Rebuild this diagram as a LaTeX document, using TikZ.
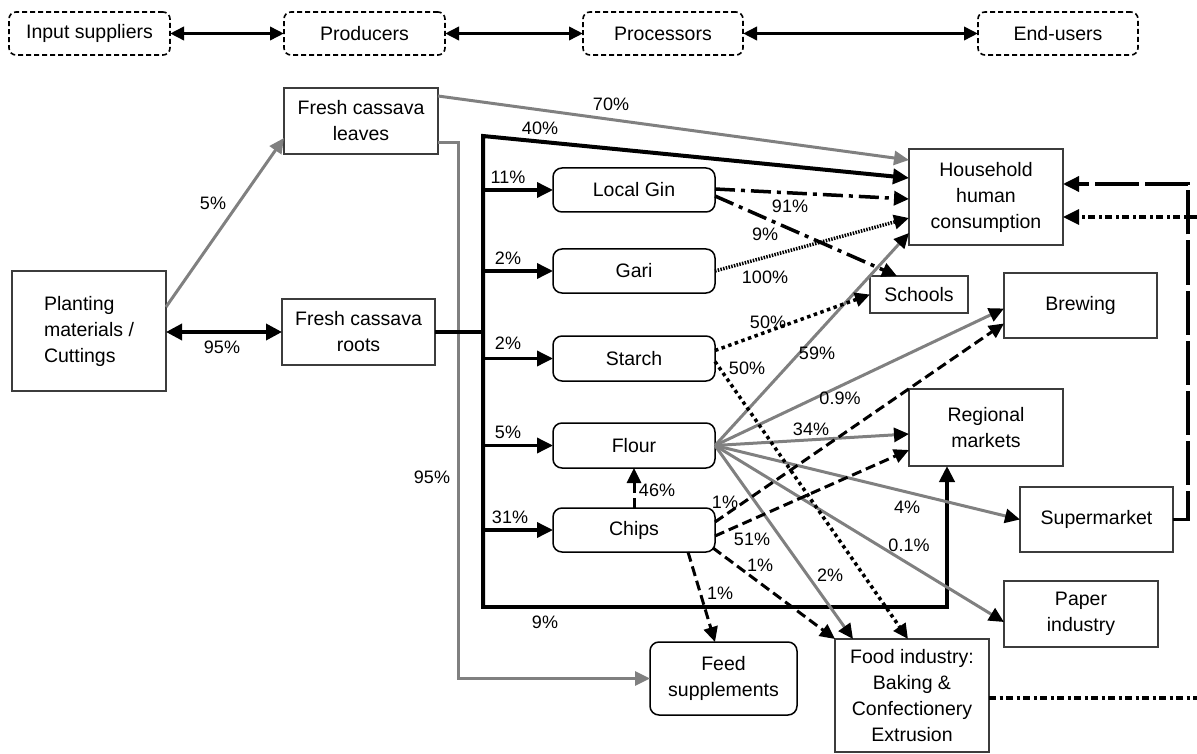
\documentclass[tikz,border=0pt]{standalone}
\usepackage{fontspec}
\setmainfont{Liberation Sans}
\usetikzlibrary{arrows.meta,calc}
\definecolor{ln}{RGB}{128,128,128}
\definecolor{bd}{RGB}{60,60,60}
\tikzset{
  every node/.style={font=\fontsize{19.5}{26}\selectfont, inner sep=0pt, outer sep=0pt},
  rbox/.style={draw=bd, line width=2pt, align=center},
  rnd/.style={draw=black, line width=1.5pt, rounded corners=9pt, align=center},
  tbox/.style={draw=black, line width=1.6pt, dash pattern=on 5pt off 3pt, rounded corners=7pt, minimum height=43pt},
  lab/.style={font=\fontsize{18}{22}\selectfont},
  gl/.style={draw=ln, line width=3pt},
  ga/.style={gl, -{Triangle[length=15pt,width=14pt]}},
  gk/.style={gl, -{Triangle[length=15pt,width=14pt,color=black]}},
  kl/.style={draw=black, line width=4pt},
  kla/.style={draw=black, line width=4pt, -{Triangle[length=16pt,width=15pt]}},
  ka/.style={draw=black, line width=3.5pt, -{Triangle[length=16pt,width=15pt]}},
  dbl/.style={draw=black, line width=3.5pt, {Triangle[length=14pt,width=13pt]}-{Triangle[length=14pt,width=13pt]}},
  dbltwo/.style={draw=black, line width=3.5pt, {Triangle[length=16pt,width=16pt]}-{Triangle[length=16pt,width=16pt]}},
  dsh/.style={draw=black, line width=3pt, dash pattern=on 10pt off 5pt, -{Triangle[length=15pt,width=14pt]}},
  dt/.style={draw=black, line width=3.5pt, dash pattern=on 3.5pt off 3.5pt, -{Triangle[length=15pt,width=14pt]}},
  fd/.style={draw=black, line width=3.5pt, dash pattern=on 1.5pt off 1.3pt, -{Triangle[length=15pt,width=14pt]}},
  dd/.style={draw=black, line width=3.5pt, dash pattern=on 20pt off 6pt on 4pt off 6pt, -{Triangle[length=15pt,width=14pt]}},
  ldash/.style={draw=black, line width=3.5pt, dash pattern=on 44pt off 6pt, -{Triangle[length=16pt,width=15pt]}},
  ddd/.style={draw=black, line width=3.2pt, dash pattern=on 7pt off 3.5pt on 3pt off 3.5pt},
  ddda/.style={ddd, -{Triangle[length=16pt,width=15pt]}},
}
\begin{document}
\begin{tikzpicture}[x=1pt,y=-1pt]
\useasboundingbox (0,0) rectangle (1197,754);
% top row
\node[tbox, minimum width=161pt] (inp) at (89.5,33.5) {Input suppliers};
\node[tbox, minimum width=161pt] (prod) at (364.5,33.5) {Producers};
\node[tbox, minimum width=160pt] (proc) at (663,33.5) {Processors};
\node[tbox, minimum width=160pt] (endu) at (1058,33.5) {End-users};
\draw[dbl] (inp.east) -- (prod.west);
\draw[dbl] (prod.east) -- (proc.west);
\draw[dbl] (proc.east) -- (endu.west);
% boxes
\node[rbox, minimum width=154pt, minimum height=120pt, align=left] (plant) at (89,331) {Planting\\materials /\\Cuttings};
\node[rbox, minimum width=154pt, minimum height=66pt] (leaves) at (361,121) {Fresh cassava\\leaves};
\node[rbox, minimum width=153pt, minimum height=66pt] (roots) at (358.5,332) {Fresh cassava\\roots};
\node[rnd, minimum width=162pt, minimum height=44pt] (gin) at (634,190) {Local Gin};
\node[rnd, minimum width=162pt, minimum height=44pt] (gari) at (634,271) {Gari};
\node[rnd, minimum width=162pt, minimum height=45pt] (starch) at (634,358.5) {Starch};
\node[rnd, minimum width=162pt, minimum height=45pt] (flour) at (634,445.5) {Flour};
\node[rnd, minimum width=162pt, minimum height=44pt] (chips) at (634,530) {Chips};
\node[rnd, minimum width=147pt, minimum height=73pt] (feed) at (723.5,678.5) {Feed\\supplements};
\node[rbox, minimum width=154pt, minimum height=113pt] (food) at (912,695.5) {Food industry:\\Baking \&\\Confectionery\\Extrusion};
\node[rbox, minimum width=154pt, minimum height=96pt] (house) at (986,197) {Household\\human\\consumption};
\node[rbox, minimum width=98pt, minimum height=37pt] (schools) at (919,294.5) {Schools};
\node[rbox, minimum width=153pt, minimum height=65pt] (brew) at (1080.5,305.5) {Brewing};
\node[rbox, minimum width=154pt, minimum height=77pt] (reg) at (986,427.5) {Regional\\markets};
\node[rbox, minimum width=153pt, minimum height=65pt] (super) at (1096.5,519.5) {Supermarket};
\node[rbox, minimum width=154pt, minimum height=66pt] (paper) at (1081,614) {Paper\\industry};
% coordinates
\coordinate (bt) at (483,136);
\coordinate (bb) at (483,607);
\coordinate (gv) at (458,0);
\coordinate (rc) at (1188,184);
\coordinate (hr) at (1197,217);
\coordinate (fr) at (1197,698);
% producers
\draw[ga] ([yshift=24pt]plant.east) -- ([yshift=-17pt]leaves.west);
\draw[dbltwo] (roots.west -| plant.east) -- (roots.west);
\draw[ga] ([yshift=-8pt]leaves.north east) -- ([yshift=37pt]house.west);
\draw[ga] ([yshift=-22pt]leaves.east) -| (gv |- feed.west) -- (feed.west);
% bus
\draw[kl] (roots.east) -- (roots.east -| bt);
\draw[kla] (bb) -- (bt) -- ([yshift=19pt]house.west);
\draw[kla] (bt) -- (bb) -| ([xshift=-39pt]reg.south);
\draw[ka] (gin.west -| bt) -- (gin.west);
\draw[ka] (gari.west -| bt) -- (gari.west);
\draw[ka] (starch.west -| bt) -- (starch.west);
\draw[ka] (flour.west -| bt) -- (flour.west);
\draw[ka] (chips.west -| bt) -- (chips.west);
% flour
\draw[gk] (flour.east) -- ([yshift=-36pt]house.west);
\draw[gk] (flour.east) -- ([yshift=-3pt]brew.west);
\draw[gk] (flour.east) -- ([yshift=-6.5pt]reg.west);
\draw[gk] (flour.east) -- (super.west);
\draw[gk] (flour.east) -- ([yshift=-8pt]paper.west);
\draw[gk] (flour.east) -- ([xshift=-59pt]food.north);
% gin, gari, starch
\draw[dd] ([yshift=1pt]gin.east) -- ([yshift=-2pt]house.west);
\draw[dd] ([yshift=-6pt]gin.east) -- ([xshift=-22pt]schools.north);
\draw[fd] (gari.east) -- ([yshift=-21pt]house.west);
\draw[dt] ([yshift=8pt]starch.east) -- (schools.west);
\draw[dt] ([yshift=-3pt]starch.east) -- ([xshift=-4pt]food.north);
% chips
\draw[dsh] (chips.north) -- (flour.south);
\draw[dsh] ([yshift=8pt]chips.east) -- ([yshift=-18pt]brew.west);
\draw[dsh] ([yshift=-6pt]chips.east) -- ([yshift=-22.5pt]reg.west);
\draw[dsh] ([xshift=-2pt,yshift=4pt]chips.south east) -- (food.north west);
\draw[dsh] ([xshift=54pt]chips.south) -- ([xshift=-8.5pt]feed.north);
% right side
\draw[ldash] (super.east) -| (rc) -- ([yshift=13pt]house.east);
\draw[ddda] (hr) -- ([yshift=-20pt]house.east);
\draw[ddd] ([yshift=-2.5pt]food.east) -- (fr);
% labels
\node[lab] (l5) at (213,203) {5\%};
\node[lab] (l95a) at (222,347) {95\%};
\node[lab] (l95b) at (432,477) {95\%};
\node[lab] (l70) at (611,104) {70\%};
\node[lab] (l40) at (540,128) {40\%};
\node[lab] (l11) at (508,177) {11\%};
\node[lab] (l2a) at (508,258) {2\%};
\node[lab] (l2b) at (508,343) {2\%};
\node[lab] (l5b) at (508,432) {5\%};
\node[lab] (l31) at (510,517) {31\%};
\node[lab] (l9b) at (545,622) {9\%};
\node[lab] (l91) at (790,206) {91\%};
\node[lab] (l9) at (765,234) {9\%};
\node[lab] (l100) at (765,277) {100\%};
\node[lab] (l50a) at (768,322) {50\%};
\node[lab] (l50b) at (747,368) {50\%};
\node[lab] (l59) at (817,353) {59\%};
\node[lab] (l09) at (840,398) {0.9\%};
\node[lab] (l34) at (811,429) {34\%};
\node[lab] (l46) at (657,490) {46\%};
\node[lab] (l1a) at (725,502) {1\%};
\node[lab] (l51) at (752,539) {51\%};
\node[lab] (l1b) at (760,565) {1\%};
\node[lab] (l1c) at (720,593) {1\%};
\node[lab] (l2c) at (830,575) {2\%};
\node[lab] (l4) at (907,507) {4\%};
\node[lab] (l01) at (909,545) {0.1\%};
\end{tikzpicture}
\end{document}
